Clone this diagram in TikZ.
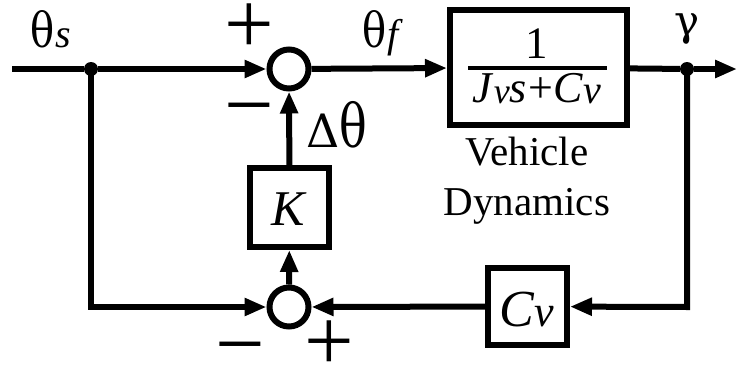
\documentclass[tikz,border=0pt]{standalone}
\usepackage{fontspec}
\usepackage{graphicx}
\setmainfont{Liberation Serif}
\newfontfamily\grk{DejaVu Serif}
\newcommand{\tallth}[1]{\scalebox{1}[#1]{\grk θ}}
\usetikzlibrary{arrows.meta}
\tikzset{
  wire/.style={line width=6pt},
  arr/.style={wire,-{Triangle[length=22pt,width=17pt]}},
  sumnode/.style={circle,draw,line width=6pt,minimum size=39pt,inner sep=0pt},
  blk/.style={draw,line width=6pt,inner sep=0pt},
  dotn/.style={circle,fill,minimum size=14pt,inner sep=0pt},
  lab/.style={inner sep=0pt},
  sgn/.style={inner sep=0pt,font=\fontsize{88}{92}\selectfont},
}
\begin{document}
\begin{tikzpicture}[x=1pt,y=-1pt]
\useasboundingbox (0,0) rectangle (737,367);
% nodes
\coordinate (in) at (12,69);
\node[dotn] (d1) at (91,69) {};
\node[sumnode] (s1) at (289,69) {};
\node[blk,minimum width=177pt,minimum height=115pt] (G) at (538.5,67.5) {};
\node[dotn] (d2) at (687,69) {};
\coordinate (out) at (737,69);
\node[blk,minimum width=79pt,minimum height=79pt] (K) at (289.5,207.5) {};
\node[sumnode] (s2) at (289,307) {};
\node[blk,minimum width=79pt,minimum height=77pt] (C) at (527.5,306.5) {};
\coordinate (bl) at (91,307);
\coordinate (br) at (687,307);
% texts
\node[lab,anchor=base,font=\fontsize{45}{48}\selectfont] (one) at (537,58) {1};
\coordinate (fl) at (468,68);
\coordinate (fr) at (607,68);
\draw[line width=4pt] (fl) -- (fr);
\node[lab,anchor=base,font=\fontsize{44}{48}\selectfont] (den) at (537,102) {\textit{J}\raisebox{-1pt}{\fontsize{36}{40}\selectfont\textit{v}}\textit{s}\kern1pt+\kern1pt\textit{C}\raisebox{-1pt}{\fontsize{40}{44}\selectfont\textit{v}}};
\node[lab,anchor=base,font=\fontsize{41}{44}\selectfont] (vd1) at (527,165) {Vehicle};
\node[lab,anchor=base,font=\fontsize{41}{44}\selectfont] (vd2) at (527,215) {Dynamics};
\node[lab,font=\fontsize{50}{54}\selectfont] (K1) at (289,209) {\textit{K}};
\node[lab,anchor=base,font=\fontsize{52}{56}\selectfont] (C1) at (527,326) {\textit{C}{\fontsize{44}{48}\selectfont\textit{v}}};
\node[lab,anchor=base,font=\fontsize{40}{44}\selectfont] (ths) at (51,47) {{\fontsize{40}{44}\selectfont\tallth{1.2}}\kern1pt\textit{s}};
\node[lab,anchor=base,font=\fontsize{40}{44}\selectfont] (thf) at (383,47) {{\fontsize{40}{44}\selectfont\tallth{1.2}}\kern1pt\textit{f}};
\node[lab,anchor=base,font=\fontsize{46}{50}\selectfont] (dth) at (337,147) {{\grk Δ}\tallth{1.3}};
\node[lab,font=\fontsize{42}{46}\selectfont\grk] (gam) at (687,29) {γ};
\node[sgn] (p1) at (249,29) {+};
\node[sgn] (m1) at (249,110) {\vphantom{+}−};
\node[sgn] (m2) at (240,349) {\vphantom{+}−};
\node[sgn] (p2) at (329,346) {+};
% connectors
\draw[wire] (in) -- (d1);
\draw[arr] (d1) -- (s1);
\draw[arr] (s1) -- (G);
\draw[wire] (G) -- (d2);
\draw[arr] (d2) -- (out);
\draw[arr] (K) -- (s1);
\draw[arr] (s2) -- (K);
\draw[arr] (d1.center) -- (bl) -- (s2);
\draw[arr] (d2.center) -- (br) -- (C);
\draw[arr] (C) -- (s2);
\end{tikzpicture}
\end{document}
